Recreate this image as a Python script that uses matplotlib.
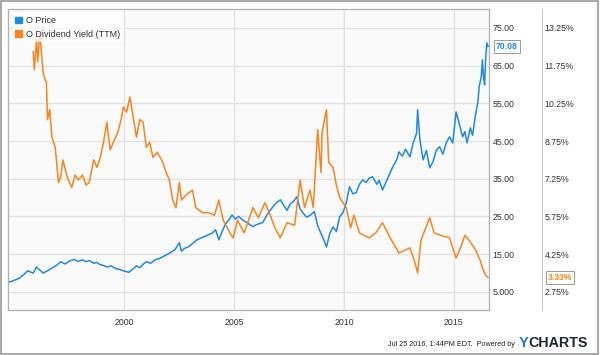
import matplotlib
matplotlib.use('Agg')
import matplotlib.pyplot as plt
from matplotlib.patches import Patch, Rectangle
from matplotlib.lines import Line2D
import matplotlib.transforms as mtransforms

plt.rcParams['font.family'] = ['Liberation Sans', 'DejaVu Sans']

# ---- datos ----
price_t = [1994.75, 1994.95, 1995.2, 1995.4, 1995.6, 1995.75, 1995.85, 1996.0, 1996.15, 1996.3,
           1996.5, 1996.7, 1996.9, 1997.1, 1997.3, 1997.5, 1997.7, 1997.9, 1998.1, 1998.25,
           1998.4, 1998.6, 1998.75, 1998.9, 1999.05, 1999.2, 1999.4, 1999.6, 1999.8, 1999.95,
           2000.2, 2000.35, 2000.55, 2000.7, 2000.85, 2001.0, 2001.2, 2001.4, 2001.6, 2001.75,
           2001.9, 2002.1, 2002.3, 2002.5, 2002.6, 2002.75, 2002.9, 2003.1, 2003.3, 2003.5,
           2003.7, 2003.85, 2004.0, 2004.15, 2004.3, 2004.45, 2004.6, 2004.75, 2004.9, 2005.05,
           2005.2, 2005.4, 2005.6, 2005.85, 2006.0, 2006.3, 2006.5, 2006.75, 2006.95, 2007.1,
           2007.3, 2007.4, 2007.55, 2007.7, 2007.85, 2008.0, 2008.15, 2008.3, 2008.5, 2008.65,
           2008.8, 2008.95, 2009.1, 2009.2, 2009.35, 2009.5, 2009.65, 2009.8, 2009.95, 2010.1,
           2010.25, 2010.4, 2010.55, 2010.7, 2010.85, 2011.0, 2011.15, 2011.3, 2011.5, 2011.6,
           2011.75, 2011.9, 2012.1, 2012.25, 2012.4, 2012.5, 2012.65, 2012.8, 2013.0, 2013.15,
           2013.3, 2013.35, 2013.45, 2013.6, 2013.75, 2013.9, 2014.05, 2014.2, 2014.35, 2014.5,
           2014.65, 2014.8, 2014.95, 2015.05, 2015.1, 2015.25, 2015.4, 2015.5, 2015.6, 2015.75,
           2015.85, 2016.0, 2016.1, 2016.15, 2016.25, 2016.3, 2016.35, 2016.4, 2016.45, 2016.5,
           2016.56]
price = [7.6, 8.0, 8.6, 9.5, 10.6, 10.2, 10.0, 11.6, 10.8, 10.0,
         10.6, 11.3, 12.0, 13.0, 12.4, 13.2, 13.6, 13.1, 13.5, 13.0,
         13.3, 12.6, 12.8, 12.2, 12.0, 11.6, 11.9, 11.2, 10.9, 10.6,
         10.2, 10.9, 11.9, 11.4, 12.3, 13.0, 12.6, 13.5, 13.9, 14.3,
         14.8, 15.4, 16.2, 18.0, 15.8, 16.6, 16.9, 17.8, 18.8, 19.3,
         19.8, 20.2, 20.6, 21.5, 18.8, 21.0, 23.0, 24.0, 25.4, 24.3,
         25.0, 24.0, 23.3, 22.3, 22.8, 23.4, 25.5, 27.5, 28.8, 29.4,
         27.5, 26.6, 28.3, 29.0, 30.2, 27.0, 25.8, 24.8, 25.5, 26.3,
         22.5, 20.5, 18.5, 16.9, 20.5, 22.2, 21.0, 24.9, 26.0, 28.6,
         32.9, 31.0, 31.3, 33.5, 34.7, 34.0, 35.2, 35.5, 33.5, 34.6,
         32.0, 34.0, 36.6, 38.5, 40.0, 42.1, 41.0, 42.8, 40.8, 44.5,
         47.0, 53.3, 45.5, 40.0, 42.5, 37.9, 39.5, 42.5, 43.5, 41.5,
         44.5, 46.1, 44.5, 50.0, 52.7, 49.5, 46.1, 47.5, 44.5, 48.5,
         46.5, 52.5, 55.5, 59.4, 62.0, 66.5, 62.0, 59.9, 67.0, 71.0,
         70.08]

yield_t = [1995.85, 1995.9, 1996.0, 1996.05, 1996.15, 1996.22, 1996.3, 1996.38, 1996.45, 1996.5,
           1996.6, 1996.7, 1996.85, 1997.0, 1997.1, 1997.2, 1997.4, 1997.6, 1997.75, 1997.9,
           1998.1, 1998.25, 1998.4, 1998.6, 1998.75, 1998.9, 1999.05, 1999.2, 1999.35, 1999.5,
           1999.7, 1999.85, 1999.95, 2000.1, 2000.25, 2000.4, 2000.55, 2000.7, 2000.85, 2001.0,
           2001.15, 2001.3, 2001.5, 2001.75, 2001.9, 2002.05, 2002.2, 2002.35, 2002.5, 2002.6,
           2002.8, 2003.1, 2003.25, 2003.55, 2003.85, 2004.1, 2004.3, 2004.5, 2004.8, 2004.95,
           2005.15, 2005.45, 2005.85, 2006.1, 2006.4, 2006.6, 2006.85, 2007.1, 2007.4, 2007.75,
           2008.0, 2008.2, 2008.45, 2008.6, 2008.8, 2008.95, 2009.0, 2009.2, 2009.3, 2009.5,
           2009.65, 2009.8, 2010.1, 2010.3, 2010.45, 2010.7, 2010.9, 2011.15, 2011.45, 2011.75,
           2012.1, 2012.3, 2012.5, 2012.75, 2013.0, 2013.2, 2013.35, 2013.5, 2013.9, 2014.1,
           2014.4, 2014.8, 2015.1, 2015.3, 2015.5, 2015.7, 2016.0, 2016.2, 2016.3, 2016.45,
           2016.56]
div_yield = [12.3, 11.6, 12.8, 11.9, 13.1, 12.3, 11.5, 11.2, 11.1, 9.6,
             10.0, 8.9, 8.5, 7.1, 7.3, 8.0, 7.3, 6.9, 7.4, 7.2,
             7.4, 7.0, 7.1, 8.0, 7.7, 8.1, 8.7, 9.5, 8.4, 8.7,
             9.1, 9.6, 10.1, 9.9, 10.5, 9.7, 8.9, 9.6, 9.5, 8.5,
             8.7, 8.1, 8.3, 7.9, 7.5, 7.2, 6.4, 6.1, 7.1, 6.4,
             6.6, 6.8, 6.1, 5.9, 5.9, 5.8, 6.4, 5.6, 5.1, 4.9,
             5.6, 5.1, 6.1, 5.7, 6.3, 5.9, 5.3, 4.9, 5.5, 5.4,
             7.2, 6.1, 6.8, 6.1, 9.2, 7.5, 9.1, 10.0, 7.9, 7.7,
             7.0, 6.5, 6.1, 5.3, 5.8, 5.1, 5.0, 4.9, 5.1, 5.5,
             4.9, 4.6, 4.3, 4.4, 4.5, 4.0, 3.5, 4.8, 5.7, 5.1,
             5.0, 4.9, 4.1, 4.5, 5.0, 4.8, 4.4, 4.0, 3.7, 3.4,
             3.33]

year_ticks = [2000, 2005, 2010, 2015]
price_ticks = [5, 15, 25, 35, 45, 55, 65, 75]
price_labels = ['5.000', '15.00', '25.00', '35.00', '45.00', '55.00', '65.00', '75.00']
yield_ticks = [2.75, 4.25, 5.75, 7.25, 8.75, 10.25, 11.75, 13.25]

blue = '#1e88e5'
orange = '#f7841d'

fig = plt.figure(figsize=(6.0, 3.55), dpi=100)
ax = fig.add_axes([8/600, 1-310/355, 481/600, 301/355])
ax.set_facecolor('#fafafa')

ymin, ymax = 0.2, 80.0
ax.set_xlim(1994.7, 2016.6)
ax.set_ylim(ymin, ymax)
ax2 = ax.twinx()
ax2.set_ylim(2.75 + (ymin - 5) * 0.15, 2.75 + (ymax - 5) * 0.15)

ax.plot(price_t, price, color=blue, lw=1.1, zorder=3)
ax2.plot(yield_t, div_yield, color=orange, lw=1.1, zorder=3)

ax.set_xticks(year_ticks)
ax.set_xticklabels([str(y) for y in year_ticks])
ax.set_yticks(price_ticks)
ax.set_yticklabels(price_labels)
ax.yaxis.tick_right()
ax.grid(True, color='#e2e2e2', lw=1.0)
ax.set_axisbelow(True)
ax.tick_params(axis='y', length=0, pad=2.5, labelsize=6.3, labelcolor='#333333')
ax.tick_params(axis='x', length=0, pad=6, labelsize=6.3, labelcolor='#333333')

ax2.set_yticks(yield_ticks)
ax2.set_yticklabels(['%.2f%%' % v for v in yield_ticks])
ax2.tick_params(axis='y', length=0, pad=40, labelsize=6.3, labelcolor='#333333')

for a in (ax, ax2):
    for s in a.spines.values():
        s.set_color('#b0b0b0')
        s.set_linewidth(0.8)

# etiquetas de ultimo valor
tr1 = mtransforms.blended_transform_factory(ax.transAxes, ax.transData)
ax.text(1 + 7/481, price[-1], '%.2f' % price[-1], transform=tr1, color=blue, fontsize=6.2,
        fontweight='bold', va='center', ha='left', clip_on=False, zorder=5,
        bbox=dict(boxstyle='square,pad=0.22', fc='white', ec='#9a9a9a', lw=0.7))
tr2 = mtransforms.blended_transform_factory(ax2.transAxes, ax2.transData)
ax2.text(1 + 59/481, div_yield[-1], '%.2f%%' % div_yield[-1], transform=tr2, color=orange,
         fontsize=6.2, fontweight='bold', va='center', ha='left', clip_on=False, zorder=5,
         bbox=dict(boxstyle='square,pad=0.22', fc='white', ec='#9a9a9a', lw=0.7))

# leyenda
handles = [Patch(color=blue, label='O Price'),
           Patch(color=orange, label='O Dividend Yield (TTM)')]
leg = ax2.legend(handles=handles, loc='upper left', fontsize=6.5, frameon=True,
                 handlelength=0.7, handleheight=0.7, handletextpad=0.5,
                 borderaxespad=0.4, labelspacing=0.5, fancybox=False)
leg.get_frame().set_facecolor('white')
leg.get_frame().set_alpha(0.75)
leg.get_frame().set_edgecolor('none')
for t in leg.get_texts():
    t.set_color('#333333')

# separador entre columnas del eje derecho
fig.add_artist(Line2D([542/600, 542/600], [1-310/355, 1-9/355], color='#cccccc', lw=0.8))

# borde exterior
fig.add_artist(Rectangle((0.002, 0.003), 0.994, 0.994, transform=fig.transFigure,
                         fill=False, ec='#9a9a9a', lw=1.2))

fig.text(388/600, 1-344/355, 'Jul 25 2016, 1:44PM EDT.  Powered by', fontsize=5.2,
         color='#222222', va='center', ha='left')
fig.text(519/600, 1-343/355, 'Y', fontsize=10.5, fontweight='bold', color='#1a73e8',
         va='center', ha='left')
fig.text(528/600, 1-343/355, 'CHARTS', fontsize=10.3, fontweight='bold', color='#1c2733',
         va='center', ha='left')

fig.savefig('out.png', dpi=100)
